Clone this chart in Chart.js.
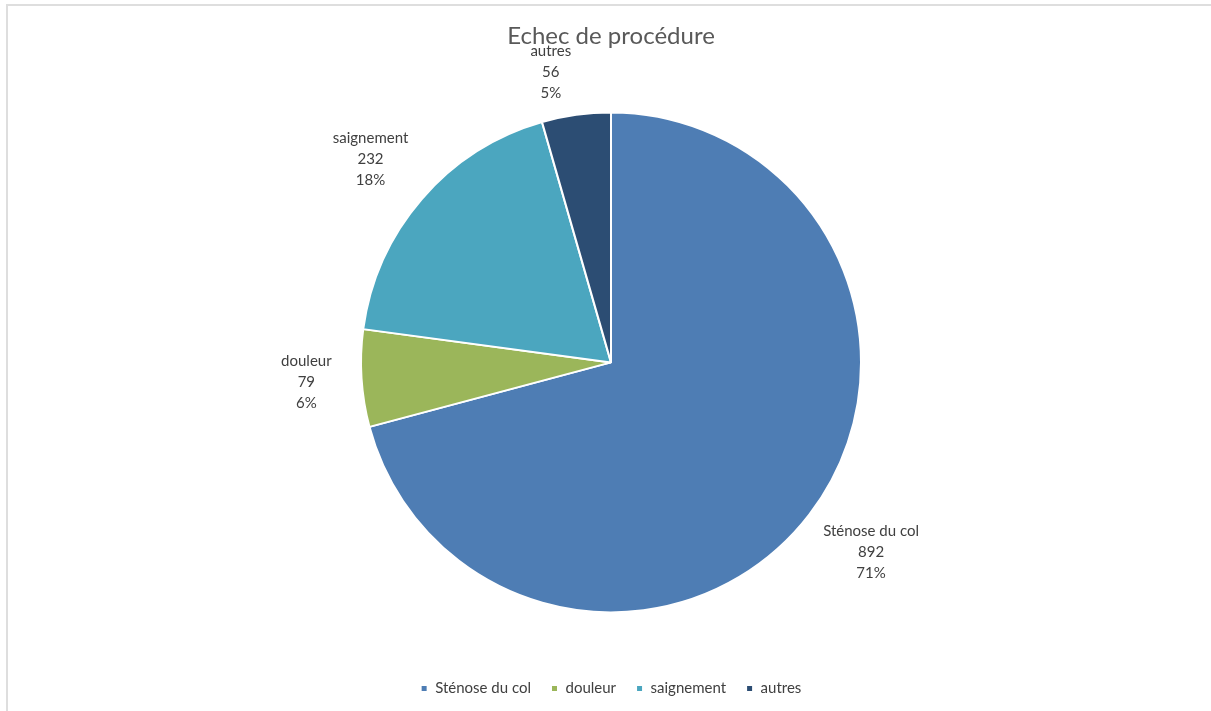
<!DOCTYPE html>
<html>
<head>
<meta charset="utf-8">
<script src="https://cdn.jsdelivr.net/npm/chart.js@4.4.1/dist/chart.umd.min.js"></script>
<style>
  html, body { margin: 0; padding: 0; background: #ffffff; }
  #wrap { position: relative; width: 1211px; height: 711px; overflow: hidden; }
  #frame { position: absolute; left: 6px; top: 4px; width: 1300px; height: 800px;
           border-left: 2px solid #dedede; border-top: 2px solid #dedede; box-sizing: border-box; }
  canvas { position: absolute; left: 0; top: 0; }
</style>
</head>
<body>
<div id="wrap">
  <div id="frame"></div>
  <canvas id="c" width="1211" height="711"></canvas>
</div>
<script>
const categories = ["Sténose du col", "douleur", "saignement", "autres"];
const counts = [892, 79, 232, 56];
const percentLabels = ["71%", "6%", "18%", "5%"];
const chartTitle = "Echec de procédure";
const sliceColors = ["#4E7DB4", "#9BB65A", "#4BA6BF", "#2C4D73"];

const FONT = "Lato, 'Open Sans', sans-serif";
const TITLE_SIZE = 24;
const TITLE_PAD_TOP = 22;

const outsideLabels = {
  id: 'outsideLabels',
  afterDatasetsDraw(chart) {
    const ctx = chart.ctx;
    const meta = chart.getDatasetMeta(0);
    ctx.save();
    ctx.font = "15px " + FONT;
    ctx.fillStyle = "#404040";
    ctx.textAlign = "center";
    ctx.textBaseline = "middle";
    const lineH = 21;
    const minTop = TITLE_PAD_TOP + TITLE_SIZE * 1.2 - 10;
    meta.data.forEach((arc, i) => {
      const p = arc.getProps(['x', 'y', 'startAngle', 'endAngle', 'outerRadius'], true);
      const mid = (p.startAngle + p.endAngle) / 2;
      const lines = [categories[i], String(counts[i]), percentLabels[i]];
      const w = Math.max(...lines.map(t => ctx.measureText(t).width));
      const h = lines.length * lineH;
      const r = p.outerRadius + 30;
      let cx = p.x + Math.cos(mid) * r + Math.cos(mid) * w / 2;
      let cy = p.y + Math.sin(mid) * r + Math.sin(mid) * h / 2;
      if (cy - h / 2 < minTop) {
        const push = minTop - (cy - h / 2);
        cy += push;
        cx += Math.sign(Math.cos(mid)) * push;
      }
      lines.forEach((t, k) => {
        ctx.fillText(t, cx, cy - h / 2 + lineH / 2 + k * lineH);
      });
    });
    ctx.restore();
  }
};

new Chart(document.getElementById('c'), {
  type: 'pie',
  data: {
    labels: categories,
    datasets: [{
      data: counts,
      backgroundColor: sliceColors,
      borderColor: '#ffffff',
      borderWidth: 2
    }]
  },
  options: {
    responsive: false,
    animation: false,
    radius: 250,
    layout: { padding: { left: 11, right: 0, top: 0, bottom: 5 } },
    plugins: {
      title: {
        display: true,
        text: chartTitle,
        color: '#595959',
        font: { family: FONT, size: TITLE_SIZE, weight: 'normal' },
        padding: { top: TITLE_PAD_TOP, bottom: 13 }
      },
      legend: {
        display: true,
        position: 'bottom',
        labels: {
          color: '#404040',
          font: { family: FONT, size: 15 },
          boxWidth: 7,
          boxHeight: 7,
          padding: 20
        }
      },
      tooltip: { enabled: false }
    }
  },
  plugins: [outsideLabels]
});
</script>
</body>
</html>
